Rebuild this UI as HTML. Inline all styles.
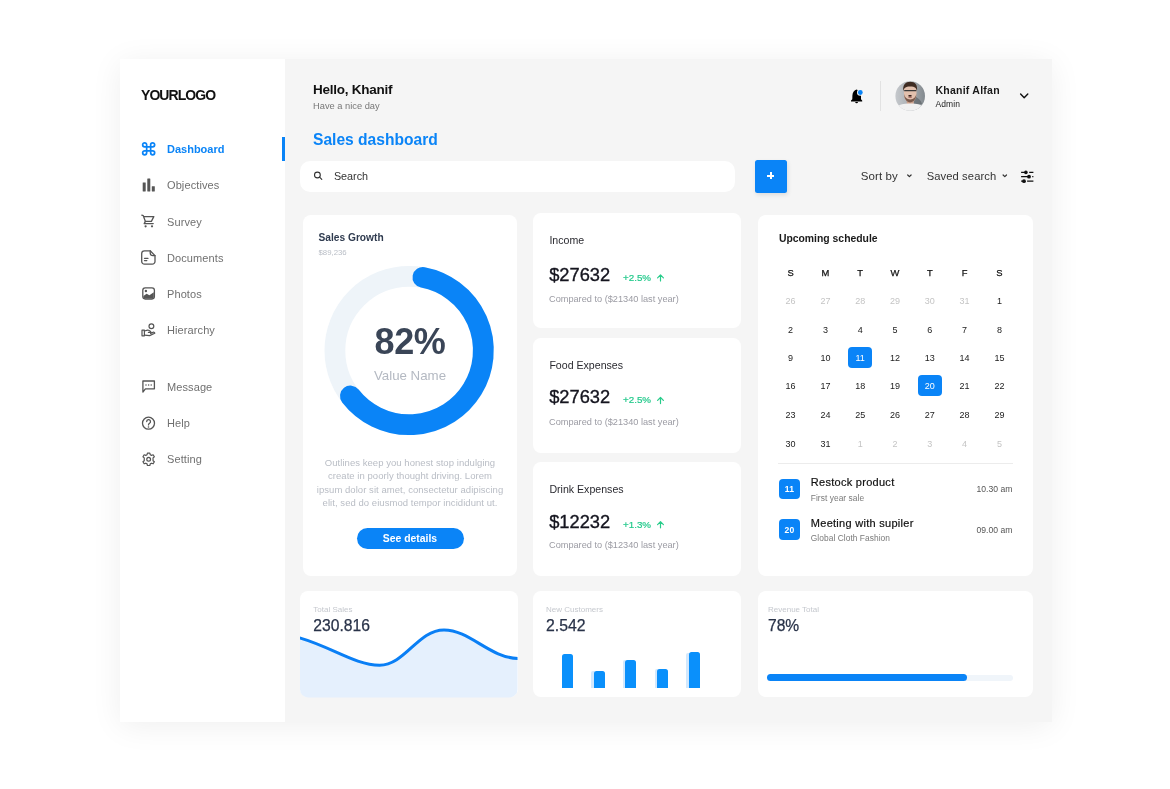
<!DOCTYPE html>
<html><head><meta charset="utf-8"><style>
html,body{margin:0;padding:0;background:#fff;width:1170px;height:789px;overflow:hidden;position:relative;font-family:"Liberation Sans", sans-serif;}
.t{position:absolute;white-space:nowrap;}
.r{position:absolute;}
svg{position:absolute;overflow:visible;}
</style></head><body>
<div id="wrap" style="position:absolute;left:0;top:0;width:1170px;height:789px;will-change:transform;">
<div class="r" style="left:120.2px;top:59px;width:932px;height:663px;background:#f5f5f5;border-radius:0px;box-shadow:0 4px 30px rgba(0,0,0,0.065);"></div>
<div class="r" style="left:120.2px;top:59px;width:164.5px;height:663px;background:#ffffff;border-radius:0px;"></div>
<div class="r" style="left:282px;top:137px;width:3px;height:24px;background:#0a84f7;border-radius:0px;"></div>
<div class="t" style="left:141px;top:88.00px;font-size:14px;line-height:14px;color:#111;font-weight:700;letter-spacing:-0.95px;">YOURLOGO</div>
<div class="t" style="left:167px;top:144.00px;font-size:11px;line-height:11px;color:#0a84f7;font-weight:700;">Dashboard</div>
<div class="t" style="left:167px;top:180.00px;font-size:11px;line-height:11px;color:#707070;font-weight:400;letter-spacing:0.1px;">Objectives</div>
<div class="t" style="left:167px;top:217.00px;font-size:11px;line-height:11px;color:#707070;font-weight:400;letter-spacing:0.1px;">Survey</div>
<div class="t" style="left:167px;top:253.00px;font-size:11px;line-height:11px;color:#707070;font-weight:400;letter-spacing:0.1px;">Documents</div>
<div class="t" style="left:167px;top:289.00px;font-size:11px;line-height:11px;color:#707070;font-weight:400;letter-spacing:0.1px;">Photos</div>
<div class="t" style="left:167px;top:325.00px;font-size:11px;line-height:11px;color:#707070;font-weight:400;letter-spacing:0.1px;">Hierarchy</div>
<div class="t" style="left:167px;top:382.00px;font-size:11px;line-height:11px;color:#707070;font-weight:400;letter-spacing:0.1px;">Message</div>
<div class="t" style="left:167px;top:418.00px;font-size:11px;line-height:11px;color:#707070;font-weight:400;letter-spacing:0.1px;">Help</div>
<div class="t" style="left:167px;top:454.00px;font-size:11px;line-height:11px;color:#707070;font-weight:400;letter-spacing:0.1px;">Setting</div>
<div class="t" style="left:313px;top:83.00px;font-size:13.5px;line-height:13.5px;color:#111;font-weight:700;letter-spacing:-0.25px;">Hello, Khanif</div>
<div class="t" style="left:313px;top:102.00px;font-size:9.3px;line-height:9.3px;color:#777;font-weight:400;">Have a nice day</div>
<div class="t" style="left:313px;top:132.00px;font-size:15.6px;line-height:15.6px;color:#0a84f7;font-weight:700;">Sales dashboard</div>
<div class="r" style="left:880px;top:81px;width:1px;height:30px;background:#e2e2e2;border-radius:0px;"></div>
<div class="t" style="left:935.4px;top:85.00px;font-size:10.5px;line-height:10.5px;color:#1a1a1a;font-weight:700;letter-spacing:0.25px;">Khanif Alfan</div>
<div class="t" style="left:935.4px;top:100.00px;font-size:8.5px;line-height:8.5px;color:#222;font-weight:400;letter-spacing:0.1px;">Admin</div>
<div class="r" style="left:300px;top:161px;width:435px;height:30.5px;background:#fff;border-radius:10px;"></div>
<div class="t" style="left:333.9px;top:171.00px;font-size:10.8px;line-height:10.8px;color:#333;font-weight:400;">Search</div>
<div class="r" style="left:754.5px;top:160px;width:32.5px;height:32.5px;background:#0a84f7;border-radius:2.5px;box-shadow:1px 2px 4px rgba(0,0,0,0.10);"></div>
<div class="r" style="left:767px;top:174.8px;width:7.4px;height:1.8px;background:#fff;border-radius:0px;"></div>
<div class="r" style="left:769.8px;top:172px;width:1.8px;height:7.4px;background:#fff;border-radius:0px;"></div>
<div class="t" style="left:860.8px;top:171.00px;font-size:11.5px;line-height:11.5px;color:#333;font-weight:400;letter-spacing:0.1px;">Sort by</div>
<div class="t" style="left:926.7px;top:171.00px;font-size:11.2px;line-height:11.2px;color:#333;font-weight:400;letter-spacing:0.1px;">Saved search</div>
<div class="r" style="left:302.8px;top:214.6px;width:214.7px;height:361.8px;background:#fff;border-radius:8px;"></div>
<div class="r" style="left:533.2px;top:213.3px;width:208px;height:114.3px;background:#fff;border-radius:8px;"></div>
<div class="r" style="left:533.2px;top:337.8px;width:208px;height:115.2px;background:#fff;border-radius:8px;"></div>
<div class="r" style="left:533.2px;top:462.3px;width:208px;height:114.2px;background:#fff;border-radius:8px;"></div>
<div class="r" style="left:758.1px;top:214.7px;width:275.2px;height:361.5px;background:#fff;border-radius:8px;"></div>
<div class="r" style="left:300px;top:590.9px;width:217.5px;height:106.5px;background:#fff;border-radius:8px;"></div>
<div class="r" style="left:533.3px;top:590.7px;width:208.2px;height:106.7px;background:#fff;border-radius:8px;"></div>
<div class="r" style="left:757.8px;top:591px;width:275.3px;height:106.1px;background:#fff;border-radius:8px;"></div>
<div class="t" style="left:318.5px;top:233.00px;font-size:10.2px;line-height:10.2px;color:#2f3b4f;font-weight:700;">Sales Growth</div>
<div class="t" style="left:318.5px;top:249.00px;font-size:7.8px;line-height:7.8px;color:#b9bec6;font-weight:400;">$89,236</div>
<div class="t" style="left:310px;width:200px;text-align:center;top:324.00px;font-size:36px;line-height:36px;color:#3a4557;font-weight:700;letter-spacing:-0.3px;">82%</div>
<div class="t" style="left:310px;width:200px;text-align:center;top:369.00px;font-size:13.3px;line-height:13.3px;color:#b4b9c2;font-weight:400;">Value Name</div>
<div class="t" style="left:310px;width:200px;text-align:center;top:458.00px;font-size:9.5px;line-height:9.5px;color:#b9bdc5;font-weight:400;letter-spacing:0.05px;">Outlines keep you honest stop indulging</div>
<div class="t" style="left:310px;width:200px;text-align:center;top:471.00px;font-size:9.5px;line-height:9.5px;color:#b9bdc5;font-weight:400;letter-spacing:0.05px;">create in poorly thought driving. Lorem</div>
<div class="t" style="left:310px;width:200px;text-align:center;top:485.00px;font-size:9.5px;line-height:9.5px;color:#b9bdc5;font-weight:400;letter-spacing:0.05px;">ipsum dolor sit amet, consectetur adipiscing</div>
<div class="t" style="left:310px;width:200px;text-align:center;top:498.00px;font-size:9.5px;line-height:9.5px;color:#b9bdc5;font-weight:400;letter-spacing:0.05px;">elit, sed do eiusmod tempor incididunt ut.</div>
<div class="r" style="left:356.5px;top:527.8px;width:107.3px;height:21px;background:#0a84f7;border-radius:10.5px;"></div>
<div class="t" style="left:310px;width:200px;text-align:center;top:534.00px;font-size:10.4px;line-height:10.4px;color:#fff;font-weight:700;">See details</div>
<div class="t" style="left:549.4px;top:235.00px;font-size:10.6px;line-height:10.6px;color:#2a2a30;font-weight:400;">Income</div>
<div class="t" style="left:549.2px;top:266.00px;font-size:18.3px;line-height:18.3px;color:#15151f;font-weight:400;-webkit-text-stroke:0.35px #15151f;">$27632</div>
<div class="t" style="left:623px;top:273.00px;font-size:9.8px;line-height:9.8px;color:#20c98a;font-weight:400;-webkit-text-stroke:0.2px #20c98a;">+2.5%</div>
<div class="t" style="left:549px;top:295.00px;font-size:9.2px;line-height:9.2px;color:#9b9ba3;font-weight:400;">Compared to ($21340 last year)</div>
<div class="t" style="left:549.4px;top:360.00px;font-size:10.6px;line-height:10.6px;color:#2a2a30;font-weight:400;">Food Expenses</div>
<div class="t" style="left:549.2px;top:388.00px;font-size:18.3px;line-height:18.3px;color:#15151f;font-weight:400;-webkit-text-stroke:0.35px #15151f;">$27632</div>
<div class="t" style="left:623px;top:395.00px;font-size:9.8px;line-height:9.8px;color:#20c98a;font-weight:400;-webkit-text-stroke:0.2px #20c98a;">+2.5%</div>
<div class="t" style="left:549px;top:418.00px;font-size:9.2px;line-height:9.2px;color:#9b9ba3;font-weight:400;">Compared to ($21340 last year)</div>
<div class="t" style="left:549.4px;top:484.00px;font-size:10.6px;line-height:10.6px;color:#2a2a30;font-weight:400;">Drink Expenses</div>
<div class="t" style="left:549.2px;top:513.00px;font-size:18.3px;line-height:18.3px;color:#15151f;font-weight:400;-webkit-text-stroke:0.35px #15151f;">$12232</div>
<div class="t" style="left:623px;top:520.00px;font-size:9.8px;line-height:9.8px;color:#20c98a;font-weight:400;-webkit-text-stroke:0.2px #20c98a;">+1.3%</div>
<div class="t" style="left:549px;top:541.00px;font-size:9.2px;line-height:9.2px;color:#9b9ba3;font-weight:400;">Compared to ($12340 last year)</div>
<div class="t" style="left:778.9px;top:234.00px;font-size:10.4px;line-height:10.4px;color:#1a1a1a;font-weight:700;">Upcoming schedule</div>
<div class="t" style="left:690.6px;width:200px;text-align:center;top:268.00px;font-size:9.4px;line-height:9.4px;color:#111;font-weight:400;letter-spacing:0.1px;-webkit-text-stroke:0.25px #111;">S</div>
<div class="t" style="left:725.4px;width:200px;text-align:center;top:268.00px;font-size:9.4px;line-height:9.4px;color:#111;font-weight:400;letter-spacing:0.1px;-webkit-text-stroke:0.25px #111;">M</div>
<div class="t" style="left:760.2px;width:200px;text-align:center;top:268.00px;font-size:9.4px;line-height:9.4px;color:#111;font-weight:400;letter-spacing:0.1px;-webkit-text-stroke:0.25px #111;">T</div>
<div class="t" style="left:795.0px;width:200px;text-align:center;top:268.00px;font-size:9.4px;line-height:9.4px;color:#111;font-weight:400;letter-spacing:0.1px;-webkit-text-stroke:0.25px #111;">W</div>
<div class="t" style="left:829.8px;width:200px;text-align:center;top:268.00px;font-size:9.4px;line-height:9.4px;color:#111;font-weight:400;letter-spacing:0.1px;-webkit-text-stroke:0.25px #111;">T</div>
<div class="t" style="left:864.6px;width:200px;text-align:center;top:268.00px;font-size:9.4px;line-height:9.4px;color:#111;font-weight:400;letter-spacing:0.1px;-webkit-text-stroke:0.25px #111;">F</div>
<div class="t" style="left:899.4px;width:200px;text-align:center;top:268.00px;font-size:9.4px;line-height:9.4px;color:#111;font-weight:400;letter-spacing:0.1px;-webkit-text-stroke:0.25px #111;">S</div>
<div class="t" style="left:690.6px;width:200px;text-align:center;top:297.00px;font-size:9px;line-height:9px;color:#c4c4c4;font-weight:400;">26</div>
<div class="t" style="left:725.4px;width:200px;text-align:center;top:297.00px;font-size:9px;line-height:9px;color:#c4c4c4;font-weight:400;">27</div>
<div class="t" style="left:760.2px;width:200px;text-align:center;top:297.00px;font-size:9px;line-height:9px;color:#c4c4c4;font-weight:400;">28</div>
<div class="t" style="left:795.0px;width:200px;text-align:center;top:297.00px;font-size:9px;line-height:9px;color:#c4c4c4;font-weight:400;">29</div>
<div class="t" style="left:829.8px;width:200px;text-align:center;top:297.00px;font-size:9px;line-height:9px;color:#c4c4c4;font-weight:400;">30</div>
<div class="t" style="left:864.6px;width:200px;text-align:center;top:297.00px;font-size:9px;line-height:9px;color:#c4c4c4;font-weight:400;">31</div>
<div class="t" style="left:899.4px;width:200px;text-align:center;top:297.00px;font-size:9px;line-height:9px;color:#222;font-weight:400;">1</div>
<div class="t" style="left:690.6px;width:200px;text-align:center;top:326.00px;font-size:9px;line-height:9px;color:#222;font-weight:400;">2</div>
<div class="t" style="left:725.4px;width:200px;text-align:center;top:326.00px;font-size:9px;line-height:9px;color:#222;font-weight:400;">3</div>
<div class="t" style="left:760.2px;width:200px;text-align:center;top:326.00px;font-size:9px;line-height:9px;color:#222;font-weight:400;">4</div>
<div class="t" style="left:795.0px;width:200px;text-align:center;top:326.00px;font-size:9px;line-height:9px;color:#222;font-weight:400;">5</div>
<div class="t" style="left:829.8px;width:200px;text-align:center;top:326.00px;font-size:9px;line-height:9px;color:#222;font-weight:400;">6</div>
<div class="t" style="left:864.6px;width:200px;text-align:center;top:326.00px;font-size:9px;line-height:9px;color:#222;font-weight:400;">7</div>
<div class="t" style="left:899.4px;width:200px;text-align:center;top:326.00px;font-size:9px;line-height:9px;color:#222;font-weight:400;">8</div>
<div class="t" style="left:690.6px;width:200px;text-align:center;top:354.00px;font-size:9px;line-height:9px;color:#222;font-weight:400;">9</div>
<div class="t" style="left:725.4px;width:200px;text-align:center;top:354.00px;font-size:9px;line-height:9px;color:#222;font-weight:400;">10</div>
<div class="r" style="left:848.0px;top:347.3px;width:24.4px;height:20.7px;background:#0a84f7;border-radius:4px;"></div>
<div class="t" style="left:760.2px;width:200px;text-align:center;top:354.00px;font-size:9px;line-height:9px;color:#fff;font-weight:400;">11</div>
<div class="t" style="left:795.0px;width:200px;text-align:center;top:354.00px;font-size:9px;line-height:9px;color:#222;font-weight:400;">12</div>
<div class="t" style="left:829.8px;width:200px;text-align:center;top:354.00px;font-size:9px;line-height:9px;color:#222;font-weight:400;">13</div>
<div class="t" style="left:864.6px;width:200px;text-align:center;top:354.00px;font-size:9px;line-height:9px;color:#222;font-weight:400;">14</div>
<div class="t" style="left:899.4px;width:200px;text-align:center;top:354.00px;font-size:9px;line-height:9px;color:#222;font-weight:400;">15</div>
<div class="t" style="left:690.6px;width:200px;text-align:center;top:382.00px;font-size:9px;line-height:9px;color:#222;font-weight:400;">16</div>
<div class="t" style="left:725.4px;width:200px;text-align:center;top:382.00px;font-size:9px;line-height:9px;color:#222;font-weight:400;">17</div>
<div class="t" style="left:760.2px;width:200px;text-align:center;top:382.00px;font-size:9px;line-height:9px;color:#222;font-weight:400;">18</div>
<div class="t" style="left:795.0px;width:200px;text-align:center;top:382.00px;font-size:9px;line-height:9px;color:#222;font-weight:400;">19</div>
<div class="r" style="left:917.5999999999999px;top:375.3px;width:24.4px;height:20.7px;background:#0a84f7;border-radius:4px;"></div>
<div class="t" style="left:829.8px;width:200px;text-align:center;top:382.00px;font-size:9px;line-height:9px;color:#fff;font-weight:400;">20</div>
<div class="t" style="left:864.6px;width:200px;text-align:center;top:382.00px;font-size:9px;line-height:9px;color:#222;font-weight:400;">21</div>
<div class="t" style="left:899.4px;width:200px;text-align:center;top:382.00px;font-size:9px;line-height:9px;color:#222;font-weight:400;">22</div>
<div class="t" style="left:690.6px;width:200px;text-align:center;top:411.00px;font-size:9px;line-height:9px;color:#222;font-weight:400;">23</div>
<div class="t" style="left:725.4px;width:200px;text-align:center;top:411.00px;font-size:9px;line-height:9px;color:#222;font-weight:400;">24</div>
<div class="t" style="left:760.2px;width:200px;text-align:center;top:411.00px;font-size:9px;line-height:9px;color:#222;font-weight:400;">25</div>
<div class="t" style="left:795.0px;width:200px;text-align:center;top:411.00px;font-size:9px;line-height:9px;color:#222;font-weight:400;">26</div>
<div class="t" style="left:829.8px;width:200px;text-align:center;top:411.00px;font-size:9px;line-height:9px;color:#222;font-weight:400;">27</div>
<div class="t" style="left:864.6px;width:200px;text-align:center;top:411.00px;font-size:9px;line-height:9px;color:#222;font-weight:400;">28</div>
<div class="t" style="left:899.4px;width:200px;text-align:center;top:411.00px;font-size:9px;line-height:9px;color:#222;font-weight:400;">29</div>
<div class="t" style="left:690.6px;width:200px;text-align:center;top:440.00px;font-size:9px;line-height:9px;color:#222;font-weight:400;">30</div>
<div class="t" style="left:725.4px;width:200px;text-align:center;top:440.00px;font-size:9px;line-height:9px;color:#222;font-weight:400;">31</div>
<div class="t" style="left:760.2px;width:200px;text-align:center;top:440.00px;font-size:9px;line-height:9px;color:#c4c4c4;font-weight:400;">1</div>
<div class="t" style="left:795.0px;width:200px;text-align:center;top:440.00px;font-size:9px;line-height:9px;color:#c4c4c4;font-weight:400;">2</div>
<div class="t" style="left:829.8px;width:200px;text-align:center;top:440.00px;font-size:9px;line-height:9px;color:#c4c4c4;font-weight:400;">3</div>
<div class="t" style="left:864.6px;width:200px;text-align:center;top:440.00px;font-size:9px;line-height:9px;color:#c4c4c4;font-weight:400;">4</div>
<div class="t" style="left:899.4px;width:200px;text-align:center;top:440.00px;font-size:9px;line-height:9px;color:#c4c4c4;font-weight:400;">5</div>
<div class="r" style="left:778.3px;top:463px;width:234.4px;height:1px;background:#ececec;border-radius:0px;"></div>
<div class="r" style="left:778.7px;top:478.7px;width:21.4px;height:20.5px;background:#0a84f7;border-radius:4px;"></div>
<div class="t" style="left:689.4px;width:200px;text-align:center;top:485.00px;font-size:8.6px;line-height:8.6px;color:#fff;font-weight:700;">11</div>
<div class="t" style="left:810.8px;top:477.00px;font-size:11px;line-height:11px;color:#111;font-weight:400;letter-spacing:0.28px;-webkit-text-stroke:0.2px #111;">Restock product</div>
<div class="t" style="left:810.8px;top:494.00px;font-size:8.4px;line-height:8.4px;color:#7a7a7a;font-weight:400;letter-spacing:0.05px;">First year sale</div>
<div class="t" style="left:712.4px;width:300px;text-align:right;top:485.00px;font-size:8.6px;line-height:8.6px;color:#555;font-weight:400;">10.30 am</div>
<div class="r" style="left:778.7px;top:519.1px;width:21.4px;height:20.5px;background:#0a84f7;border-radius:4px;"></div>
<div class="t" style="left:689.4px;width:200px;text-align:center;top:526.00px;font-size:8.6px;line-height:8.6px;color:#fff;font-weight:700;">20</div>
<div class="t" style="left:810.8px;top:518.00px;font-size:11px;line-height:11px;color:#111;font-weight:400;letter-spacing:0.28px;-webkit-text-stroke:0.2px #111;">Meeting with supiler</div>
<div class="t" style="left:810.8px;top:534.00px;font-size:8.4px;line-height:8.4px;color:#7a7a7a;font-weight:400;letter-spacing:0.05px;">Global Cloth Fashion</div>
<div class="t" style="left:712.4px;width:300px;text-align:right;top:526.00px;font-size:8.6px;line-height:8.6px;color:#555;font-weight:400;">09.00 am</div>
<div class="t" style="left:313.3px;top:606.00px;font-size:8px;line-height:8px;color:#c5c8ce;font-weight:400;">Total Sales</div>
<div class="t" style="left:313.3px;top:618.00px;font-size:15.7px;line-height:15.7px;color:#283248;font-weight:400;-webkit-text-stroke:0.25px #283248;">230.816</div>
<div class="t" style="left:546px;top:606.00px;font-size:8px;line-height:8px;color:#c5c8ce;font-weight:400;">New Customers</div>
<div class="t" style="left:546px;top:618.00px;font-size:15.8px;line-height:15.8px;color:#283248;font-weight:400;-webkit-text-stroke:0.25px #283248;">2.542</div>
<div class="t" style="left:768px;top:606.00px;font-size:8px;line-height:8px;color:#c5c8ce;font-weight:400;">Revenue Total</div>
<div class="t" style="left:768px;top:618.00px;font-size:15.6px;line-height:15.6px;color:#283248;font-weight:400;-webkit-text-stroke:0.25px #283248;">78%</div>
<div class="r" style="left:767px;top:674.9px;width:246.4px;height:5.9px;background:#f0f5fa;border-radius:3px;"></div>
<div class="r" style="left:767px;top:674px;width:200.4px;height:7.4px;background:#0a84f7;border-radius:3.7px;"></div>
<div class="r" style="left:562px;top:654.2px;width:11px;height:33.799999999999955px;background:#0a90fb;border-radius:0px;border-radius:2.5px 2.5px 0 0;"></div>
<div class="r" style="left:591.3px;top:671.4px;width:4.2000000000000455px;height:16.599999999999977px;background:#d2e8fd;border-radius:0px;border-radius:2px 0 0 0;"></div>
<div class="r" style="left:593.5px;top:670.6px;width:11.200000000000045px;height:17.399999999999977px;background:#0a90fb;border-radius:0px;border-radius:2.5px 2.5px 0 0;"></div>
<div class="r" style="left:623px;top:660.3px;width:4.2999999999999545px;height:27.7px;background:#d2e8fd;border-radius:0px;border-radius:2px 0 0 0;"></div>
<div class="r" style="left:625.3px;top:659.5px;width:10.900000000000091px;height:28.5px;background:#0a90fb;border-radius:0px;border-radius:2.5px 2.5px 0 0;"></div>
<div class="r" style="left:654.8px;top:669.3px;width:4.2000000000000455px;height:18.7px;background:#d2e8fd;border-radius:0px;border-radius:2px 0 0 0;"></div>
<div class="r" style="left:657px;top:668.5px;width:11px;height:19.5px;background:#0a90fb;border-radius:0px;border-radius:2.5px 2.5px 0 0;"></div>
<div class="r" style="left:686px;top:653.0999999999999px;width:4.7000000000000455px;height:34.90000000000005px;background:#d2e8fd;border-radius:0px;border-radius:2px 0 0 0;"></div>
<div class="r" style="left:688.7px;top:652.3px;width:11.199999999999932px;height:35.700000000000045px;background:#0a90fb;border-radius:0px;border-radius:2.5px 2.5px 0 0;"></div>
<svg width="1170" height="789" viewBox="0 0 1170 789" style="left:0;top:0;">
<defs>
<clipPath id="cardclip"><rect x="300" y="590.9" width="217.5" height="106.5" rx="8"/></clipPath>
<clipPath id="avclip"><circle cx="910.2" cy="96" r="14.8"/></clipPath>
<linearGradient id="avbg" x1="0" y1="0" x2="1" y2="0"><stop offset="0" stop-color="#c6c9cd"/><stop offset="0.5" stop-color="#a9aeb2"/><stop offset="1" stop-color="#7f868b"/></linearGradient>
</defs>
<!-- donut -->
<circle cx="409.2" cy="350.6" r="74.3" fill="none" stroke="#eef4f9" stroke-width="20.8"/>
<path d="M422.9,277.4 A74.3,74.3 0 1 1 350.4,396.0" fill="none" stroke="#0a84f7" stroke-width="20.8" stroke-linecap="round"/>
<!-- wave -->
<g clip-path="url(#cardclip)">
<path d="M298,637.4 C330,646 355,665.2 379.6,665.2 C405,665.2 418,629.9 444,629.9 C470,629.9 490,658.5 519,658.5 L519,700 L298,700 Z" fill="#e5f0fd"/>
<path d="M298,637.4 C330,646 355,665.2 379.6,665.2 C405,665.2 418,629.9 444,629.9 C470,629.9 490,658.5 519,658.5" fill="none" stroke="#0a7ff5" stroke-width="3"/>
</g>
<!-- nav icons -->
<g transform="translate(140.65,140.85) scale(0.667)" fill="none" stroke="#0a84f7" stroke-width="2.55" stroke-linecap="round" stroke-linejoin="round">
<path d="M18 3a3 3 0 0 0-3 3v12a3 3 0 0 0 3 3 3 3 0 0 0 3-3 3 3 0 0 0-3-3H6a3 3 0 0 0-3 3 3 3 0 0 0 3 3 3 3 0 0 0 3-3V6a3 3 0 0 0-3-3 3 3 0 0 0-3 3 3 3 0 0 0 3 3h12a3 3 0 0 0 3-3 3 3 0 0 0-3-3z"/>
</g>
<g fill="#555">
<rect x="142.7" y="182.4" width="3" height="9" rx="0.3"/>
<rect x="147.3" y="178.6" width="3" height="12.8" rx="0.3"/>
<rect x="151.8" y="186.3" width="3" height="5.1" rx="0.3"/>
</g>
<g fill="none" stroke="#555" stroke-width="1.3" stroke-linecap="round" stroke-linejoin="round">
<!-- cart -->
<path d="M141.8,215.2 L143.2,215.6 L145.4,221.4 L151.4,221.4 L153.8,216.6 L144,216.6"/>
<path d="M145.4,221.4 L144.2,223.6 L153.2,223.6"/>
<!-- document -->
<path d="M144.5,250.8 L150.2,250.8 L155,255.6 L155,261.4 A2.8,2.8 0 0 1 152.2,264.2 L144.5,264.2 A2.8,2.8 0 0 1 141.7,261.4 L141.7,253.6 A2.8,2.8 0 0 1 144.5,250.8 Z"/>
<path d="M150.2,250.8 L150.2,253 A2.6,2.6 0 0 0 152.8,255.6 L155,255.6"/>
<path d="M144.5,258.3 L148,258.3 M144.5,260.6 L146.8,260.6"/>
<!-- photos -->
<rect x="142.8" y="287.8" width="11.6" height="11.2" rx="2.4"/>
<!-- message -->
<path d="M142.9,392 L142.9,381 L154.4,381 L154.4,388.8 L145.4,388.8 Z"/>
<!-- help -->
<circle cx="148.5" cy="423.2" r="6"/>
<path d="M146.7,421.6 A1.9,1.9 0 1 1 149.4,423.3 C148.7,423.7 148.5,424 148.5,424.9"/>
</g>
<g fill="#555">
<circle cx="145.6" cy="226.3" r="1.1"/><circle cx="152" cy="226.3" r="1.1"/>
<circle cx="145.9" cy="291" r="1.2"/>
<path d="M143.4,296 L146.6,293.8 L149.4,295.2 L153.8,292.2 L153.8,297 A1.6,1.6 0 0 1 152.2,298.6 L145,298.6 A1.6,1.6 0 0 1 143.4,297 Z"/>
<circle cx="146" cy="385" r="0.75"/><circle cx="148.6" cy="385" r="0.75"/><circle cx="151.2" cy="385" r="0.75"/>
<circle cx="148.5" cy="427" r="0.8"/>
</g>
<!-- hierarchy: hand + person -->
<g fill="none" stroke="#555" stroke-width="1.2" stroke-linecap="round" stroke-linejoin="round">
<circle cx="151.4" cy="326.2" r="2.4"/>
<rect x="142" y="330.2" width="2.4" height="5.6"/>
<path d="M144.4,331 L147.6,330.2 C148.8,330 150.6,331.4 151,332.2 L148.4,332.4 M144.4,335.2 L149.6,335.6 L154.8,333.2 C154.6,332.2 153.6,332 152.8,332.4 L150.6,333.4"/>
</g>
<!-- gear -->
<g transform="translate(148.65,459.3)" fill="none" stroke="#555" stroke-width="1.2" stroke-linejoin="round">
<path d="M-1.2,-6.2 L1.2,-6.2 L1.6,-4.6 L2.9,-3.9 L4.5,-4.5 L5.7,-2.5 L4.4,-1.4 L4.4,1.4 L5.7,2.5 L4.5,4.5 L2.9,3.9 L1.6,4.6 L1.2,6.2 L-1.2,6.2 L-1.6,4.6 L-2.9,3.9 L-4.5,4.5 L-5.7,2.5 L-4.4,1.4 L-4.4,-1.4 L-5.7,-2.5 L-4.5,-4.5 L-2.9,-3.9 L-1.6,-4.6 Z"/>
<circle cx="0" cy="0" r="1.9"/>
</g>
<!-- bell -->
<g fill="#000">
<path d="M856.5,89.5 C854.4,90 852.5,92.2 852.4,95.6 L852.3,99.2 L851,100.5 L851,101.5 L862.2,101.5 L862.2,100.5 L861,99.2 L861,95.6 C860.9,92.2 858.8,90 856.5,89.5 Z"/>
<path d="M855.2,102 L858,102 A1.4,1.3 0 0 1 855.2,102 Z"/>
</g>
<circle cx="860.3" cy="92.5" r="3.3" fill="#f5f5f5"/>
<circle cx="860.3" cy="92.5" r="2.4" fill="#0a84f7"/>
<!-- chevron header -->
<path d="M1020.6,94 L1024.2,97.8 L1027.8,94" fill="none" stroke="#111" stroke-width="1.4" stroke-linecap="round" stroke-linejoin="round"/>
<!-- search icon -->
<g fill="none" stroke="#333" stroke-width="1.1" stroke-linecap="round">
<circle cx="317.4" cy="175" r="2.9"/>
<path d="M319.6,177.2 L321.8,179.4"/>
</g>
<!-- small chevrons -->
<g fill="none" stroke="#333" stroke-width="1.2" stroke-linecap="round" stroke-linejoin="round">
<path d="M907.7,175 L909.4,176.7 L911.1,175"/>
<path d="M1003.1,175 L1004.8,176.7 L1006.5,175"/>
</g>
<!-- filter icon -->
<g stroke="#111" stroke-width="1.3">
<path d="M1021.1,172.4 L1025,172.4 M1029.2,172.4 L1033.4,172.4 M1021.1,176.7 L1028,176.7 M1032.2,176.7 L1033.4,176.7 M1021.1,181.2 L1023,181.2 M1027.1,181.2 L1033.4,181.2"/>
</g>
<g fill="#111">
<circle cx="1025.9" cy="172.4" r="1.8"/><circle cx="1029" cy="176.7" r="1.9"/><circle cx="1024" cy="181.2" r="1.9"/>
</g>
<!-- green arrows -->
<g fill="none" stroke="#27cc8a" stroke-width="1.2" stroke-linecap="round" stroke-linejoin="round">
<path d="M660.5,281 L660.5,275 M657.6,277.8 L660.5,274.9 L663.4,277.8"/>
<path d="M660.5,403.6 L660.5,397.6 M657.6,400.4 L660.5,397.5 L663.4,400.4"/>
<path d="M660.5,527.8 L660.5,521.8 M657.6,524.6 L660.5,521.7 L663.4,524.6"/>
</g>
<!-- avatar -->
<g clip-path="url(#avclip)">
<rect x="895" y="81" width="31" height="31" fill="url(#avbg)"/>
<path d="M914,96 C918,98 921,100 922,104 L914,104 Z" fill="#5d6468" opacity="0.7"/>
<rect x="906.8" y="97" width="6.8" height="7" fill="#cda08a"/>
<path d="M893,113 C894,106 901,103.6 910.2,103.6 C919,103.6 926,106 927,113 Z" fill="#f1f1f1"/>
<path d="M903.8,89 C903.8,84.5 906.6,83.4 910.2,83.4 C913.8,83.4 916.6,84.5 916.6,89 L916.4,95 C916,99.6 913.4,102.4 910.2,102.4 C907,102.4 904.4,99.6 904,95 Z" fill="#e2c0ad"/>
<path d="M904,94 C904.4,99.6 907,102.4 910.2,102.4 C913.4,102.4 916,99.6 916.4,94 C915.6,97.6 913.6,99.4 910.2,99.4 C906.8,99.4 904.8,97.6 904,94 Z" fill="#7a5a4c"/>
<path d="M903.2,91.5 C902.6,84.6 905.6,81.8 910.3,81.8 C915,81.8 917.8,84.6 917,91.5 C916.6,88 915.2,86.4 910.2,86.4 C905.4,86.4 903.8,88 903.2,91.5 Z" fill="#3f2c22"/>
<path d="M904.2,90.6 L916.2,90.6" stroke="#3a3a3a" stroke-width="1.2"/>
<ellipse cx="910" cy="95.8" rx="1.8" ry="0.9" fill="#2a1610"/>
<ellipse cx="910.1" cy="97.2" rx="2" ry="0.8" fill="#a86f66"/>
</g>
</svg>

</div>
</body></html>
